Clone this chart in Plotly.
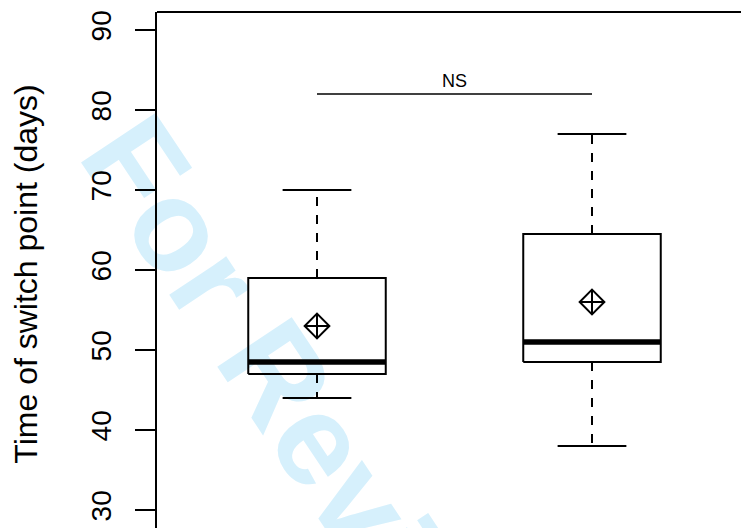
import plotly.graph_objects as go

# ---- data ----
groups = [1, 2]
upper_whisker = [70, 77]
q3 = [59, 64.5]
medians = [48.5, 51]
q1 = [47, 48.5]
lower_whisker = [44, 38]
means = [53, 56]
ns_y = 82
ns_label = "NS"
y_ticks = [30, 40, 50, 60, 70, 80, 90]
y_title = "Time of switch point (days)"
watermark = "For Review"

FONT = "Liberation Sans, Arial, Helvetica, sans-serif"
box_half = 0.25
cap_half = 0.125

fig = go.Figure()

for g, uw, hi, md, lo, lw, mn in zip(groups, upper_whisker, q3, medians, q1, lower_whisker, means):
    # whiskers (dashed)
    fig.add_trace(go.Scatter(x=[g, g], y=[hi, uw], mode="lines",
                             line=dict(color="black", width=2, dash="9px,9px"),
                             hoverinfo="skip", showlegend=False))
    fig.add_trace(go.Scatter(x=[g, g], y=[lo, lw], mode="lines",
                             line=dict(color="black", width=2, dash="9px,9px"),
                             hoverinfo="skip", showlegend=False))
    # caps
    for v in (uw, lw):
        fig.add_trace(go.Scatter(x=[g - cap_half, g + cap_half], y=[v, v], mode="lines",
                                 line=dict(color="black", width=2),
                                 hoverinfo="skip", showlegend=False))
    # box
    fig.add_trace(go.Scatter(x=[g - box_half, g + box_half, g + box_half, g - box_half, g - box_half],
                             y=[lo, lo, hi, hi, lo], mode="lines",
                             line=dict(color="black", width=2),
                             hoverinfo="skip", showlegend=False))
    # median
    fig.add_trace(go.Scatter(x=[g - box_half, g + box_half], y=[md, md], mode="lines",
                             line=dict(color="black", width=5.5),
                             hoverinfo="skip", showlegend=False))
    # mean
    fig.add_trace(go.Scatter(x=[g], y=[mn], mode="markers",
                             marker=dict(symbol="diamond-cross-open", size=19,
                                         color="black", line=dict(width=2, color="black")),
                             hoverinfo="skip", showlegend=False))

# significance bar
fig.add_trace(go.Scatter(x=[groups[0], groups[1]], y=[ns_y, ns_y], mode="lines",
                         line=dict(color="black", width=1.5),
                         hoverinfo="skip", showlegend=False))
fig.add_annotation(x=(groups[0] + groups[1]) / 2, y=ns_y, text=ns_label, showarrow=False,
                   yanchor="bottom", yshift=1, font=dict(family=FONT, size=18, color="black"))

# frame: top line
fig.add_shape(type="line", xref="paper", yref="paper", x0=0, x1=1, y0=1, y1=1,
              line=dict(color="black", width=2))

# watermark (below traces); page has an 8px body margin, plot area 600x524 px
cx = (316 - 157) / 600.0
cy = (536 - 412) / 524.0
fig.add_shape(type="rect", xref="paper", yref="paper",
              x0=cx - 0.003, x1=cx + 0.003, y0=cy - 0.003, y1=cy + 0.003,
              line=dict(width=0), fillcolor="rgba(0,0,0,0)", layer="below",
              label=dict(text=watermark, textangle=56.3, textposition="middle center",
                         font=dict(family=FONT, size=130, color="#d6f0fc", weight="bold")))

fig.update_layout(
    width=749, height=528,
    margin=dict(l=149, r=0, t=4, b=0),
    paper_bgcolor="white", plot_bgcolor="white",
    font=dict(family=FONT, color="black"),
    xaxis=dict(range=[0.4182, 2.6], visible=False, fixedrange=True),
    yaxis=dict(range=[26.75, 92.25], tickvals=y_ticks, ticktext=[str(t) for t in y_ticks],
               ticks="outside", ticklen=20, tickwidth=2, tickcolor="black",
               tickangle=-90, ticklabelstandoff=13,
               tickfont=dict(family=FONT, size=28, color="black"),
               showline=True, linewidth=2, linecolor="black",
               showgrid=False, zeroline=False, automargin=False,
               title=dict(text=y_title, standoff=40,
                          font=dict(family=FONT, size=32, color="black"))),
)

fig.write_html("out.html")
